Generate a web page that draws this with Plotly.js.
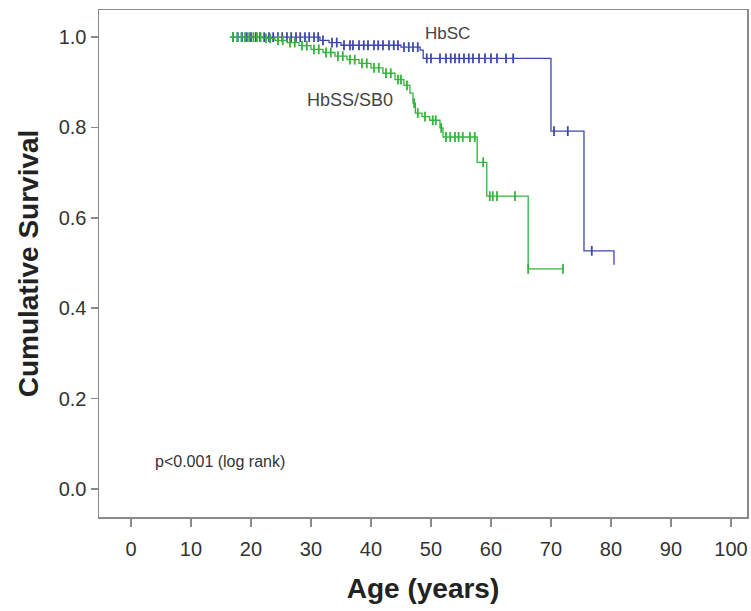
<!DOCTYPE html>
<html><head><meta charset="utf-8">
<script src="https://cdn.plot.ly/plotly-3.0.1.min.js"></script>
<style>html,body{margin:0;padding:0;background:#fff;}#chart{width:751px;height:611px;}</style>
</head><body><div id="chart"></div>
<script>
// HbSS/SB0 (green) Kaplan-Meier steps
var ssAge = [16.5, 22, 24, 26, 28, 30, 32, 34, 36, 38, 40, 42, 44, 45.5, 46.5, 47, 47.4, 48.5, 49.8, 51.5, 52, 57.7, 59.3, 66.2, 72];
var ssSurv = [1.0, 0.997, 0.993, 0.988, 0.981, 0.973, 0.966, 0.958, 0.95, 0.942, 0.932, 0.92, 0.906, 0.893, 0.876, 0.854, 0.832, 0.824, 0.816, 0.799, 0.779, 0.723, 0.648, 0.487, 0.487];
// HbSS/SB0 censored
var ssCensAge = [17, 17.7, 18.4, 19, 19.7, 20.4, 21, 21.6, 22.5, 23.2, 24.5, 25.3, 26.5, 27.3, 28.5, 29.3, 30.5, 31.3, 32.5, 33.3, 34.5, 35.3, 36.5, 37.3, 38.5, 39.3, 40.5, 41.3, 42.5, 43.3, 44.5, 45, 46, 47.2, 47.8, 49, 50.3, 50.8, 51.7, 52.5, 53.2, 54, 54.6, 55.3, 56.5, 57.3, 58.7, 59.8, 60.3, 61, 64, 66.2, 72];
var ssCensSurv = [1, 1, 1, 1, 1, 1, 1, 1, 0.997, 0.997, 0.993, 0.993, 0.988, 0.988, 0.981, 0.981, 0.973, 0.973, 0.966, 0.966, 0.958, 0.958, 0.95, 0.95, 0.942, 0.942, 0.932, 0.932, 0.92, 0.92, 0.906, 0.906, 0.893, 0.854, 0.832, 0.824, 0.816, 0.816, 0.799, 0.779, 0.779, 0.779, 0.779, 0.779, 0.779, 0.779, 0.723, 0.648, 0.648, 0.648, 0.648, 0.487, 0.487];

// HbSC (blue) Kaplan-Meier steps
var scAge = [16.5, 31.5, 33, 35, 45, 48.2, 48.7, 70, 75.5, 80.5];
var scSurv = [1.0, 0.993, 0.988, 0.982, 0.978, 0.971, 0.953, 0.792, 0.527, 0.496];
// HbSC censored
var scCensAge = [17, 17.8, 18.5, 19.3, 20, 20.8, 21.5, 22.2, 23, 23.7, 24.5, 25.2, 26, 26.7, 27.5, 28.2, 29, 29.7, 30.5, 31.2, 32, 33.5, 34.3, 35.5, 36.5, 37, 38, 38.8, 39.5, 40.5, 41.2, 42, 43, 43.8, 44.5, 45.5, 46.3, 47, 47.8, 49.3, 50, 51.5, 52.5, 53.3, 54, 54.7, 55.5, 56.3, 57, 58, 59, 60, 61, 62.5, 63.7, 70.5, 72.8, 76.8];
var scCensSurv = [1, 1, 1, 1, 1, 1, 1, 1, 1, 1, 1, 1, 1, 1, 1, 1, 1, 1, 1, 1, 0.993, 0.988, 0.988, 0.982, 0.982, 0.982, 0.982, 0.982, 0.982, 0.982, 0.982, 0.982, 0.982, 0.982, 0.982, 0.978, 0.978, 0.978, 0.978, 0.953, 0.953, 0.953, 0.953, 0.953, 0.953, 0.953, 0.953, 0.953, 0.953, 0.953, 0.953, 0.953, 0.953, 0.953, 0.953, 0.792, 0.792, 0.527];

var xTicks = [0, 10, 20, 30, 40, 50, 60, 70, 80, 90, 100];
var yTicks = [0.0, 0.2, 0.4, 0.6, 0.8, 1.0];

var blue = 'rgb(62,72,172)';
var green = 'rgb(52,178,62)';

var traces = [
  {x: scAge, y: scSurv, mode: 'lines', line: {shape: 'hv', color: blue, width: 1.3}, showlegend: false, hoverinfo: 'skip'},
  {x: scCensAge, y: scCensSurv, mode: 'markers', marker: {symbol: 'line-ns-open', size: 7, color: blue, line: {color: blue, width: 1.8}}, showlegend: false},
  {x: ssAge, y: ssSurv, mode: 'lines', line: {shape: 'hv', color: green, width: 1.3}, showlegend: false, hoverinfo: 'skip'},
  {x: ssCensAge, y: ssCensSurv, mode: 'markers', marker: {symbol: 'line-ns-open', size: 7, color: green, line: {color: green, width: 1.8}}, showlegend: false}
];

var layout = {
  width: 751, height: 611,
  margin: {l: 99, r: 4, t: 10, b: 94},
  paper_bgcolor: '#fff', plot_bgcolor: '#fff',
  font: {family: 'Liberation Sans, Arial, sans-serif', color: '#333'},
  xaxis: {
    range: [-5.33, 102.67], tickvals: xTicks, ticktext: xTicks.map(String),
    showgrid: false, zeroline: false, showline: true, mirror: true,
    linecolor: '#8a8a8a', linewidth: 1.5, ticks: 'outside', ticklen: 8, tickcolor: '#8a8a8a', tickwidth: 1.5,
    ticklabelstandoff: 5,
    tickfont: {size: 20, color: '#333'},
    title: {text: '<b>Age (years)</b>', font: {size: 28, color: '#222'}, standoff: 20}
  },
  yaxis: {
    range: [-0.062, 1.06], tickvals: yTicks, tickformat: '.1f',
    showgrid: false, zeroline: false, showline: true, mirror: true,
    linecolor: '#8a8a8a', linewidth: 1.5, ticks: 'outside', ticklen: 7, tickcolor: '#8a8a8a', tickwidth: 1.5,
    tickfont: {size: 20, color: '#333'},
    title: {text: '<b>Cumulative Survival</b>', font: {size: 28, color: '#222'}, standoff: 12}
  },
  annotations: [
    {x: 52.7, y: 1.009, text: 'HbSC', showarrow: false, font: {size: 17, color: '#444'}},
    {x: 36.5, y: 0.861, text: 'HbSS/SB0', showarrow: false, font: {size: 18, color: '#444'}},
    {x: 14.8, y: 0.06, text: 'p<0.001 (log rank)', showarrow: false, font: {size: 16, color: '#333'}}
  ]
};

Plotly.newPlot('chart', traces, layout, {staticPlot: true, displayModeBar: false});
</script>
</body></html>
